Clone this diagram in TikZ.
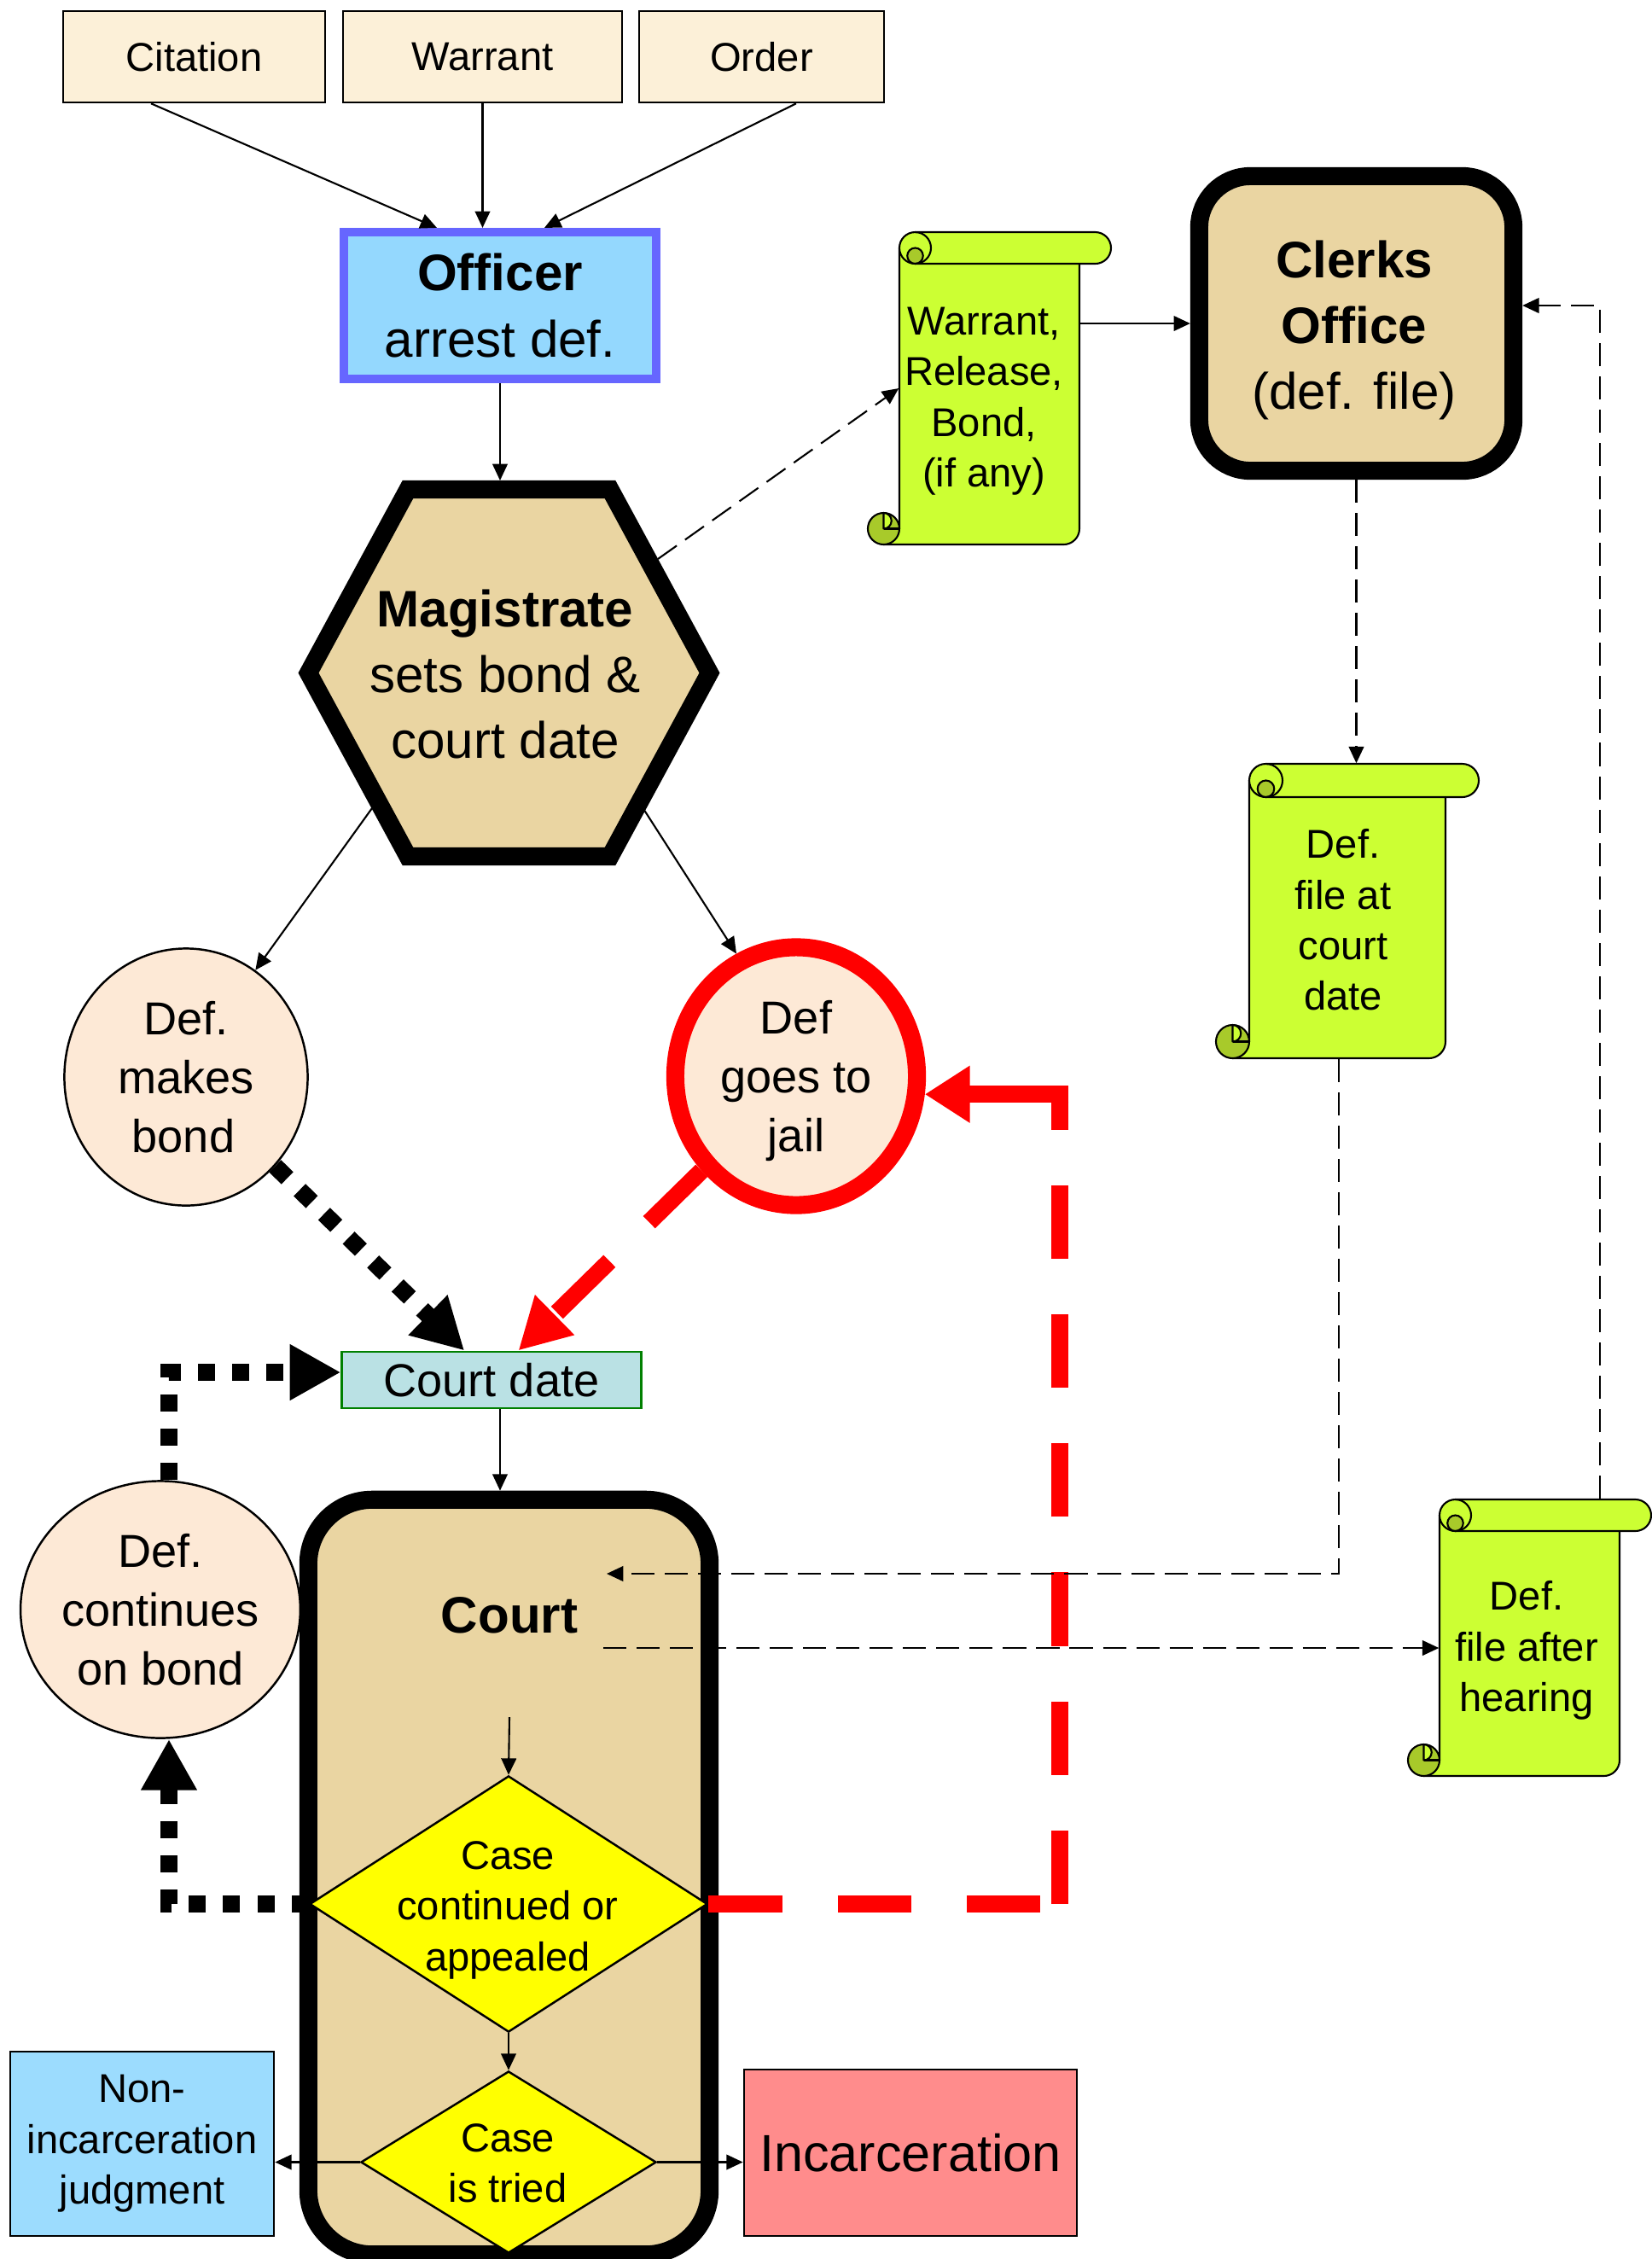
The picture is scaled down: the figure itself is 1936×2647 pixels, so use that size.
\documentclass[tikz,border=0pt]{standalone}
\usepackage{fontspec}
\setmainfont{Liberation Sans}
\usetikzlibrary{arrows.meta,shapes.geometric,calc,fit}
\definecolor{cream}{RGB}{252,240,216}
\definecolor{offfill}{RGB}{148,216,254}
\definecolor{offline}{RGB}{102,102,255}
\definecolor{parch}{RGB}{234,213,162}
\definecolor{scrollg}{RGB}{204,255,51}
\definecolor{scrolld}{RGB}{168,202,42}
\definecolor{peach}{RGB}{253,233,214}
\definecolor{cdfill}{RGB}{186,225,228}
\definecolor{cdline}{RGB}{0,128,0}
\definecolor{nonfill}{RGB}{156,220,254}
\definecolor{incfill}{RGB}{255,140,140}
\definecolor{ylw}{RGB}{255,255,0}
\definecolor{rd}{RGB}{255,0,0}
\newcommand\fsA{\fontsize{13.4pt}{16.9pt}\selectfont}
\newcommand\fsB{\fontsize{15.4pt}{19.6pt}\selectfont}
\newcommand\fsC{\fontsize{17.1pt}{22pt}\selectfont}
\newcommand\fsD{\fontsize{17.4pt}{21pt}\selectfont}
% vertical scroll: name, left, top, right, bottom (page px, y down), roll height
\newcommand\myscroll[6]{%
  \pgfmathsetmacro\skL{#2}\pgfmathsetmacro\skT{-(#3)}%
  \pgfmathsetmacro\skR{#4}\pgfmathsetmacro\skB{-(#5)}%
  \pgfmathsetmacro\skC{#6}\pgfmathsetmacro\skH{#6/2}\pgfmathsetmacro\skQ{#6/4}%
  \filldraw[sline,fill=scrollg] (\skL+\skC,\skT-\skH) -- (\skR-\skC,\skT-\skH) -- (\skR-\skC,\skB+\skH)
     arc[start angle=0,end angle=-90,radius=\skH] -- (\skL+\skH,\skB) -- (\skL+\skH,\skB+\skH) -- (\skL+\skC,\skB+\skH) -- cycle;
  \filldraw[sline,fill=scrolld] (\skL+\skH,\skB+\skH) circle[radius=\skH];
  \filldraw[sline,fill=scrollg] (\skL+\skH,\skB+\skC) arc[start angle=90,end angle=-90,radius=\skQ] -- cycle;
  \draw[sline] (\skL+\skH,\skB+\skH) -- (\skL+\skC,\skB+\skH);
  \filldraw[sline,fill=scrollg] (\skL+\skC+\skH,\skT) -- (\skR-\skH,\skT) arc[start angle=90,end angle=-90,radius=\skH]
     -- (\skL+\skC+\skH,\skT-\skC) arc[start angle=270,end angle=90,radius=\skH] -- cycle;
  \filldraw[sline,fill=scrolld] (\skL+\skC+\skH,\skT-\skC+\skQ) circle[radius=\skQ];
  \draw[sline] (\skL+\skC+\skH,\skT) arc[start angle=90,end angle=-90,radius=\skH];
  \node[fit={(\skL+\skC,\skT) (\skR-\skC,\skB)},inner sep=0pt] (#1) {};
}
\begin{document}
\begin{tikzpicture}[x=0.01cm,y=0.01cm,
  sline/.style={draw=black,line width=0.6pt,line join=round},
  thinbox/.style={draw=black,line width=0.7pt,inner sep=0pt,align=center},
  txt/.style={align=center,inner sep=0pt},
  bigbox/.style={draw=black,line width=6pt,fill=parch,inner sep=0pt},
  oval/.style={ellipse,draw=black,line width=0.7pt,fill=peach,inner sep=0pt,align=center,font=\fsB},
  dmd/.style={diamond,draw=black,line width=0.7pt,fill=ylw,inner sep=0pt},
  thinarrow/.style={line width=0.6pt,-{Triangle[length=5.5pt,width=5pt]}},
  thindash/.style={thinarrow,dash pattern=on 7.7pt off 3.4pt},
  redline/.style={draw=rd,line width=5.7pt},
  reddash/.style={redline,dash pattern=on 24.5pt off 18.5pt},
  blackdot/.style={draw=black,line width=5.7pt,dash pattern=on 5.7pt off 5.7pt},
  bigtip/.style={-{Triangle[length=17pt,width=17.5pt]}}
]
\useasboundingbox (0,0) rectangle (1936,-2647);
\fill[white] (0,0) rectangle (1936,-2647);

% top boxes
\node[thinbox,fill=cream,minimum width=3.07cm,minimum height=1.07cm,font=\fsA] (cit) at (227.5,-66.5) {Citation};
\node[thinbox,fill=cream,minimum width=3.27cm,minimum height=1.07cm,font=\fsA] (war) at (565.5,-66.5) {Warrant};
\node[thinbox,fill=cream,minimum width=2.87cm,minimum height=1.07cm,font=\fsA] (ord) at (892.5,-66.5) {Order};

% officer
\node[draw=offline,line width=2.85pt,fill=offfill,minimum width=3.66cm,minimum height=1.72cm,inner sep=0pt,align=center,font=\fsC] (off) at (586,-358) {\textbf{Officer}\\arrest def.};

% magistrate hexagon
\filldraw[line width=6pt,fill=parch,line join=miter] (361.5,-788.5) -- (478,-573.5) -- (715,-573.5) -- (831.5,-788.5) -- (715,-1003.5) -- (478,-1003.5) -- cycle;
\node[txt,font=\fsC] (mag) at (592,-790) {\textbf{Magistrate}\\sets bond \&\\court date};
\coordinate (magN) at (596.5,-563);
\coordinate (hexUR) at (771,-655);
\coordinate (hexLL) at (436,-947);
\coordinate (hexLR) at (755.5,-950);

% clerks office
\node[bigbox,rounded corners=0.6cm,minimum width=3.68cm,minimum height=3.45cm] (cl) at (1589.5,-379) {};
\node[txt,font=\fsC] (clt) at (1587,-387) {\textbf{Clerks}\\\textbf{Office}\\(def. file)};

% scrolls
\myscroll{s1}{1017}{272}{1302}{638}{37}
\node[txt,font=\fsA] (s1t) at (1153,-470) {Warrant,\\Release,\\Bond,\\(if any)};
\myscroll{s2}{1425}{895}{1733}{1240}{39}
\node[txt,font=\fsA] (s2t) at (1574,-1078) {Def.\\file at\\court\\date};
\myscroll{s3}{1650}{1757}{1935}{2081}{37}
\node[txt,font=\fsA] (s3t) at (1789,-1934) {Def.\\file after\\hearing};

% ellipses
\node[oval,minimum width=2.85cm,minimum height=3.01cm] (bond) at (218,-1262) {Def.\\makes\\bond\hspace*{0.06cm}};
\node[oval,draw=rd,line width=6pt,minimum width=2.83cm,minimum height=3.02cm] (jail) at (933,-1261) {Def\\goes to\\\smash{j}ail};
\node[oval,minimum width=3.07cm,minimum height=3.01cm] (cont) at (188,-1886) {Def.\\continues\\on bond};

% court date
\node[draw=cdline,line width=0.8pt,fill=cdfill,minimum width=3.5cm,minimum height=0.66cm,inner sep=0pt,font=\fsB] (cd) at (576,-1617) {Court date};

% court
\node[bigbox,rounded corners=0.75cm,minimum width=4.7cm,minimum height=8.84cm] (court) at (596.5,-2199.5) {};
\node[font=\fsC\bfseries,anchor=base,inner sep=0pt] (courtt) at (597,-1913) {Court};
\node[dmd,minimum width=4.66cm,minimum height=3cm] (d1) at (596,-2231) {};
\node[txt,font=\fsA] (d1t) at (595,-2238) {Case\\continued or\\appealed};
\node[dmd,minimum width=3.46cm,minimum height=2.13cm] (d2) at (596,-2533.5) {};
\node[txt,font=\fsA] (d2t) at (595,-2534.5) {Case\\is tried};

% outcomes
\node[thinbox,fill=nonfill,minimum width=3.09cm,minimum height=2.16cm,font=\fsA] (non) at (166.5,-2512) {Non-\\incarceration\\judgment};
\node[thinbox,fill=incfill,minimum width=3.9cm,minimum height=1.95cm,font=\fsD] (inc) at (1067,-2522.5) {Incarceration};

% ---------- connectors ----------
% thick red dashed (each leg restarts its dashes)
\coordinate (rc1) at ($(d1.east)+(412,0)$);
\coordinate (rc2) at (rc1 |- jail.-8);
\draw[reddash] (d1.east) -- (rc1);
\draw[reddash] (rc1) -- (rc2);
\draw[redline,-{Triangle[length=15pt,width=18pt]}] ($(rc2)+(10,0)$) -- (jail.-8);
\draw[reddash,bigtip] (jail.-135) -- ($(cd.north west)!0.589!(cd.north east)$);
% thick black dotted
\draw[blackdot,bigtip] (bond.-45) -- ($(cd.north west)!0.41!(cd.north east)$);
\coordinate (contS) at ($(cont.south)+(10,0)$);
\coordinate (contN) at ($(cont.north)+(10,0)$);
\coordinate (cdW) at ($(cd.west)+(0,9)$);
\draw[blackdot,bigtip] (d1.west) -| (contS);
\draw[blackdot,bigtip] (contN) |- (cdW);

% thin solid
\draw[thinarrow] ($(cit.south)+(-50.5,0)$) -- ($(off.north)+(-74,0)$);
\draw[thinarrow] (war.south) -- (war.south |- off.north);
\draw[thinarrow] ($(ord.south)+(40.5,0)$) -- ($(off.north)+(52,0)$);
\draw[thinarrow] (off.south) -- (off.south |- magN);
\draw[thinarrow] (hexLL) -- (bond.57);
\draw[thinarrow] (hexLR) -- (jail.116);
\draw[thinarrow] (s1.east |- cl.west) -- (cl.west);
\coordinate (cdb) at ($(cd.south)+(10,0)$);
\draw[thinarrow] (cdb) -- (cdb |- court.north);
\coordinate (ctop) at (597,-2012);
\draw[thinarrow] (ctop) -- (d1.north);
\draw[thinarrow] (d1.south) -- (d2.north);
\draw[thinarrow] (d2.west) -- (d2.west -| non.east);
\draw[thinarrow] (d2.east) -- (d2.east -| inc.west);

% thin dashed
\draw[thindash] (hexUR) -- (s1.west);
\draw[thindash] (cl.south) -- (cl.south |- s2.north);
\coordinate (s2b) at ($(s2.south)+(-10,0)$);
\coordinate (cin) at (711,-1844);
\draw[thindash] (s2b) |- (cin);
\coordinate (cout) at (707,-1931);
\draw[thindash] (cout) -- (cout -| s3.west);
\coordinate (s3top) at ($(s3.north east)+(-24,0)$);
\coordinate (clE) at ($(cl.east)+(0,21)$);
\draw[thindash] (s3top) |- (clE);
\end{tikzpicture}
\end{document}
